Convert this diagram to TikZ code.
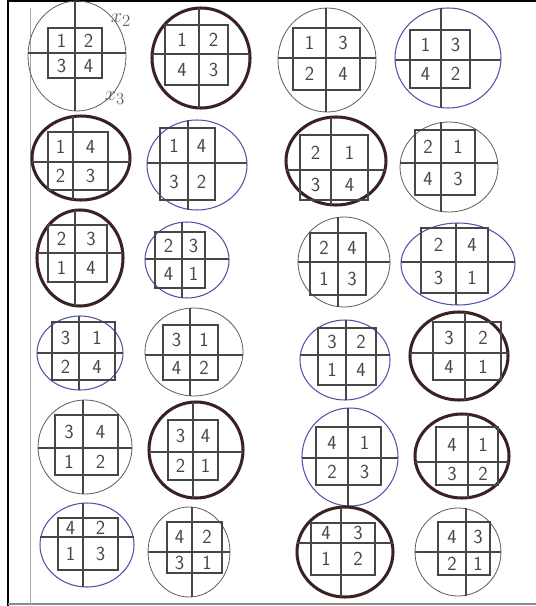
\documentclass[tikz,border=0pt]{standalone}
\usepackage{xcolor}
\usepackage{tikz}

\definecolor{inkbrown}{RGB}{58,34,34}
\definecolor{penblue}{RGB}{82,82,168}
\definecolor{pengray}{RGB}{95,95,95}
\definecolor{gridgray}{RGB}{70,70,70}

\begin{document}
\begin{tikzpicture}[
    x=0.03cm, y=-0.03cm,
    ink/.style     ={draw=inkbrown, line width=2.6pt},
    blu/.style     ={draw=penblue, line width=0.9pt},
    pen/.style     ={draw=pengray, line width=0.7pt},
    grid/.style    ={draw=gridgray, line width=1.0pt},
    digit/.style   ={font=\fontsize{17}{17}\sffamily, text=gridgray, inner sep=0pt},
    note/.style    ={font=\fontsize{19}{19}\selectfont, text=pengray, inner sep=0pt}
  ]
    \useasboundingbox (0,0) rectangle (536,606);

    % sheet frame and paper edge
    \draw[black, line width=1.6pt] (8,606) -- (8,1) -- (536,1);
    \draw[black!45, line width=1.4pt] (8,604) -- (536,604);
    \draw[black!35, line width=0.5pt] (30,8) -- (30,604);

    % n / cross (vx,hy) / box corners / rim centre and radii / rim style / cells
    \foreach \n/\vx/\hy/\xa/\ya/\xb/\yb/\cx/\cy/\rx/\ry/\rim/\a/\b/\c/\d in {
      1/75/53/48/28/102/78/77/56/49/55/pen/1/2/3/4,
      2/199/54/165/25/228/85/201/58/49/50/ink/1/2/4/3,
      3/326/58/293/28/360/90/327/60/49/52/pen/1/3/2/4,
      4/441/60/410/30/470/88/448/58/53/50/blu/1/3/4/2,
      5/73/162/48/132/108/190/81/158/49/42/ink/1/4/2/3,
      6/188/163/160/128/215/200/197/165/50/45/blu/1/4/3/2,
      7/331/170/300/135/368/200/336/161/50/44/ink/2/1/3/4,
      8/441/163/415/130/475/195/449/167/49/45/pen/2/1/4/3,
      9/75/253/48/225/107/282/80/258/43/48/ink/2/3/1/4,
      10/182/259/155/232/205/288/187/260/42/38/blu/2/3/4/1,
      11/338/262/310/233/366/295/344/262/46/45/pen/2/4/1/3,
      12/456/262/421/228/488/293/458/264/57/41/blu/2/4/3/1,
      13/79/353/52/322/115/380/80/353/43/37/blu/3/1/2/4,
      14/190/355/163/325/218/380/194/352/49/44/pen/3/1/4/2,
      15/346/355/318/328/376/385/345/360/45/40/blu/3/2/1/4,
      16/465/353/433/322/501/380/459/356/49/44/ink/3/2/4/1,
      17/83/448/55/415/118/475/85/447/47/47/pen/3/4/1/2,
      18/193/452/168/420/218/480/196/450/47/48/ink/3/4/2/1,
      19/348/458/316/427/381/485/350/457/48/49/blu/4/1/2/3,
      20/468/462/436/427/498/485/462/456/47/42/ink/4/1/3/2,
      21/83/537/58/518/118/570/87/545/47/42/blu/4/2/1/3,
      22/192/552/167/522/222/573/189/552/41/45/pen/4/2/3/1,
      23/341/543/311/523/375/575/345/552/48/45/ink/4/3/1/2,
      24/466/552/438/522/490/575/458/552/43/44/pen/4/3/2/1} {
      \draw[\rim] (\cx,\cy) ellipse [x radius=\rx, y radius=\ry];
      \draw[grid] (\xa,\ya) rectangle (\xb,\yb);
      \draw[grid] (\vx,\cy-\ry) -- (\vx,\cy+\ry);
      \draw[grid] (\cx-\rx,\hy) -- (\cx+\rx,\hy);
      \node[digit] (d\n a) at ({(\xa+\vx)/2},{(\ya+\hy)/2}) {\a};
      \node[digit] (d\n b) at ({(\vx+\xb)/2},{(\ya+\hy)/2}) {\b};
      \node[digit] (d\n c) at ({(\xa+\vx)/2},{(\hy+\yb)/2}) {\c};
      \node[digit] (d\n d) at ({(\vx+\xb)/2},{(\hy+\yb)/2}) {\d};
    }

    % axis names on the first sketch
    \node[note] (xtwo) at (121,20) {$x_2$};
    \node[note] (xthree) at (115,98) {$x_3$};
  \end{tikzpicture}
\end{document}
